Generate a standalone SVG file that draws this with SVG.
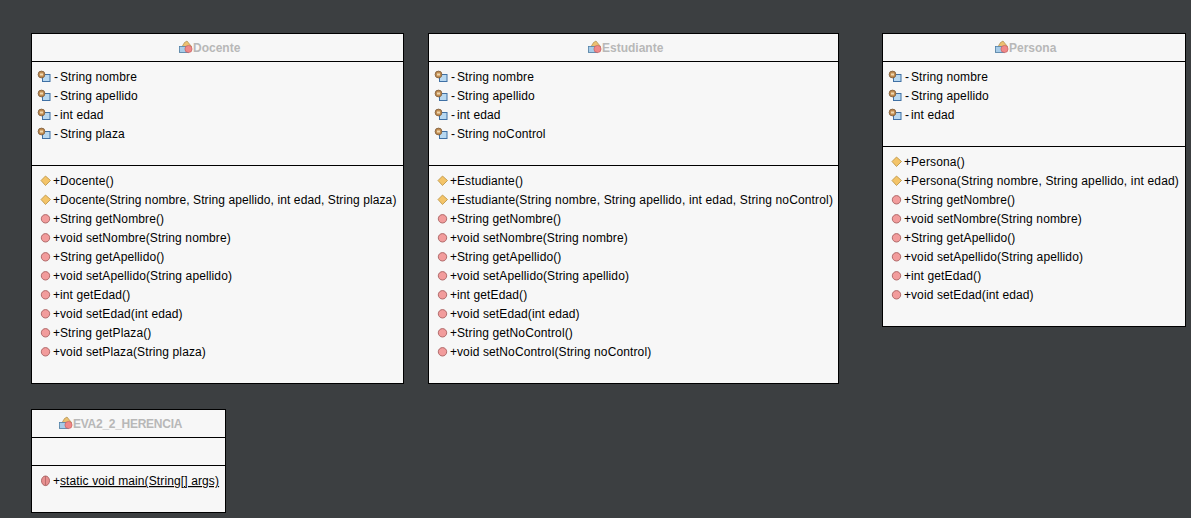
<svg xmlns="http://www.w3.org/2000/svg" width="1191" height="518" viewBox="0 0 1191 518">
<style>
.box{fill:#f7f7f7;stroke:#000;stroke-width:1}
.ln{stroke:#000;stroke-width:1;fill:none}
text{font-family:"Liberation Sans",Arial,sans-serif;font-size:12px;fill:#000;letter-spacing:.12px}
.t{font-weight:bold;fill:#b8b8b8;letter-spacing:0}
</style>
<defs>
<g id="cls"><path d="M0.500 10 5.500 1.500 8 0 12.500 5.500 9 11H0.500Z" fill="#ecc070" stroke="#a08040" stroke-width=".6"/><rect x="0.500" y="5.500" width="9" height="6" fill="#a8cce8" stroke="#5080a8" stroke-width=".8"/><circle cx="9.500" cy="8" r="3.600" fill="#f08888" stroke="#c05858" stroke-width=".6"/></g>
<g id="fld"><rect x="4.500" y="3.500" width="7.500" height="7" fill="#b8d8f0" stroke="#3f70a4"/><circle cx="3.500" cy="3.500" r="3.400" fill="#c08c50" stroke="#7a5a3c" stroke-width=".8"/><rect x="2" y="2.500" width="3" height="2" fill="#f0d8b0"/></g>
<path id="ctr" d="M4.500 0 9.500 4.500 4.500 9.500 0 4.500Z" fill="#f4c468" stroke="#b89040" stroke-width=".8"/>
<circle id="mth" cx="4.500" cy="4.800" r="4.200" fill="#f29c9c" stroke="#a86060" stroke-width=".9"/>
<g id="stc"><ellipse cx="4.500" cy="4.800" rx="4" ry="4.800" fill="#e89090" stroke="#a86060" stroke-width=".9"/><path d="M4.500 0V9.500" stroke="#a86060" stroke-width=".7"/></g>
</defs>
<rect width="1191" height="518" fill="#3c3f41"/>

<g id="connectors"/>

<g id="Docente">
<rect class="box" x="31.5" y="33.5" width="372" height="350"/>
<path class="ln" d="M32 61.5H403M32 165.5H403"/>
<use href="#cls" x="179" y="41"/><text class="t" x="193" y="52">Docente</text>
<use href="#fld" x="38" y="71"/><text x="54" y="81">-</text><text x="60" y="81">String nombre</text>
<use href="#fld" x="38" y="90"/><text x="54" y="100">-</text><text x="60" y="100">String apellido</text>
<use href="#fld" x="38" y="109"/><text x="54" y="119">-</text><text x="60" y="119">int edad</text>
<use href="#fld" x="38" y="128"/><text x="54" y="138">-</text><text x="60" y="138">String plaza</text>
<use href="#ctr" x="41" y="176"/><text x="53" y="185">+</text><text x="60" y="185">Docente()</text>
<use href="#ctr" x="41" y="195"/><text x="53" y="204">+</text><text x="60" y="204" style="letter-spacing:.1px">Docente(String nombre, String apellido, int edad, String plaza)</text>
<use href="#mth" x="41" y="214"/><text x="53" y="223">+</text><text x="60" y="223">String getNombre()</text>
<use href="#mth" x="41" y="233"/><text x="53" y="242">+</text><text x="60" y="242">void setNombre(String nombre)</text>
<use href="#mth" x="41" y="252"/><text x="53" y="261">+</text><text x="60" y="261">String getApellido()</text>
<use href="#mth" x="41" y="271"/><text x="53" y="280">+</text><text x="60" y="280">void setApellido(String apellido)</text>
<use href="#mth" x="41" y="290"/><text x="53" y="299">+</text><text x="60" y="299">int getEdad()</text>
<use href="#mth" x="41" y="309"/><text x="53" y="318">+</text><text x="60" y="318">void setEdad(int edad)</text>
<use href="#mth" x="41" y="328"/><text x="53" y="337">+</text><text x="60" y="337">String getPlaza()</text>
<use href="#mth" x="41" y="347"/><text x="53" y="356">+</text><text x="60" y="356">void setPlaza(String plaza)</text>
</g>

<g id="Estudiante">
<rect class="box" x="428.500" y="33.5" width="410" height="350"/>
<path class="ln" d="M429 61.5H838M429 165.5H838"/>
<use href="#cls" x="588" y="41"/><text class="t" x="602" y="52">Estudiante</text>
<use href="#fld" x="435" y="71"/><text x="451" y="81">-</text><text x="457" y="81">String nombre</text>
<use href="#fld" x="435" y="90"/><text x="451" y="100">-</text><text x="457" y="100">String apellido</text>
<use href="#fld" x="435" y="109"/><text x="451" y="119">-</text><text x="457" y="119">int edad</text>
<use href="#fld" x="435" y="128"/><text x="451" y="138">-</text><text x="457" y="138">String noControl</text>
<use href="#ctr" x="438" y="176"/><text x="450" y="185">+</text><text x="457" y="185">Estudiante()</text>
<use href="#ctr" x="438" y="195"/><text x="450" y="204">+</text><text x="457" y="204" style="letter-spacing:.15px">Estudiante(String nombre, String apellido, int edad, String noControl)</text>
<use href="#mth" x="438" y="214"/><text x="450" y="223">+</text><text x="457" y="223">String getNombre()</text>
<use href="#mth" x="438" y="233"/><text x="450" y="242">+</text><text x="457" y="242">void setNombre(String nombre)</text>
<use href="#mth" x="438" y="252"/><text x="450" y="261">+</text><text x="457" y="261">String getApellido()</text>
<use href="#mth" x="438" y="271"/><text x="450" y="280">+</text><text x="457" y="280">void setApellido(String apellido)</text>
<use href="#mth" x="438" y="290"/><text x="450" y="299">+</text><text x="457" y="299">int getEdad()</text>
<use href="#mth" x="438" y="309"/><text x="450" y="318">+</text><text x="457" y="318">void setEdad(int edad)</text>
<use href="#mth" x="438" y="328"/><text x="450" y="337">+</text><text x="457" y="337">String getNoControl()</text>
<use href="#mth" x="438" y="347"/><text x="450" y="356">+</text><text x="457" y="356">void setNoControl(String noControl)</text>
</g>

<g id="Persona">
<rect class="box" x="882.500" y="33.5" width="303" height="293"/>
<path class="ln" d="M883 61.5H1185M883 146.5H1185"/>
<use href="#cls" x="995" y="41"/><text class="t" x="1009" y="52">Persona</text>
<use href="#fld" x="889" y="71"/><text x="905" y="81">-</text><text x="911" y="81">String nombre</text>
<use href="#fld" x="889" y="90"/><text x="905" y="100">-</text><text x="911" y="100">String apellido</text>
<use href="#fld" x="889" y="109"/><text x="905" y="119">-</text><text x="911" y="119">int edad</text>
<use href="#ctr" x="892" y="157"/><text x="904" y="166">+</text><text x="911" y="166">Persona()</text>
<use href="#ctr" x="892" y="176"/><text x="904" y="185">+</text><text x="911" y="185" style="letter-spacing:.16px">Persona(String nombre, String apellido, int edad)</text>
<use href="#mth" x="892" y="195"/><text x="904" y="204">+</text><text x="911" y="204">String getNombre()</text>
<use href="#mth" x="892" y="214"/><text x="904" y="223">+</text><text x="911" y="223">void setNombre(String nombre)</text>
<use href="#mth" x="892" y="233"/><text x="904" y="242">+</text><text x="911" y="242">String getApellido()</text>
<use href="#mth" x="892" y="252"/><text x="904" y="261">+</text><text x="911" y="261">void setApellido(String apellido)</text>
<use href="#mth" x="892" y="271"/><text x="904" y="280">+</text><text x="911" y="280">int getEdad()</text>
<use href="#mth" x="892" y="290"/><text x="904" y="299">+</text><text x="911" y="299">void setEdad(int edad)</text>
</g>

<g id="EVA2_2_HERENCIA">
<rect class="box" x="31.5" y="409.5" width="194" height="103"/>
<path class="ln" d="M32 437.5H225M32 465.5H225"/>
<use href="#cls" x="59" y="417"/><text class="t" x="73" y="428" style="letter-spacing:-.27px">EVA2_2_HERENCIA</text>
<use href="#stc" x="41" y="476"/><text x="53" y="485">+</text><text x="60" y="485" text-decoration="underline">static void main(String[] args)</text>
</g>
</svg>
